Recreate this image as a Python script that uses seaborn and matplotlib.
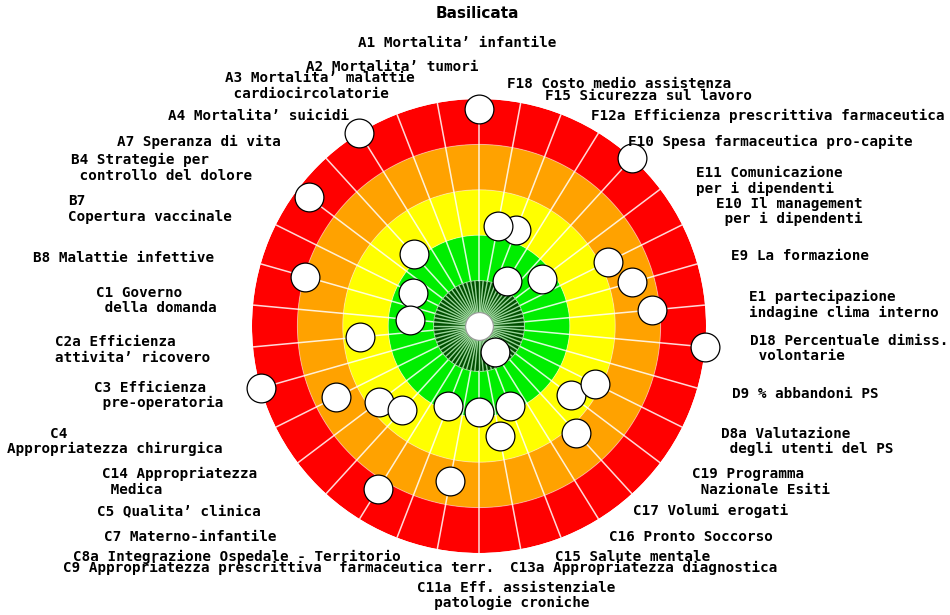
"""
Bersaglio (target) chart for Basilicata: each indicator sits on its own
spoke; the closer to the centre, the better the performance (0-5 score).
"""

import matplotlib
matplotlib.use('Agg')

import matplotlib.pyplot as plt
import numpy as np
import pandas as pd
import seaborn as sns

REGION = 'Basilicata'

INDICATORS = [
    'A1', 'A2', 'A3', 'A4', 'A7', 'B4', 'B7', 'B8', 'C1', 'C2a', 'C3', 'C4',
    'C14', 'C5', 'C7', 'C8a', 'C9', 'C11a', 'C13a', 'C15', 'C16', 'C17',
    'C19', 'D8a', 'D9', 'D18', 'E1', 'E9', 'E10', 'E11', 'F10', 'F12a',
    'F15', 'F18',
]

LABELS = [
    "A1 Mortalita’ infantile",
    "A2 Mortalita’ tumori",
    "A3 Mortalita’ malattie\n cardiocircolatorie",
    "A4 Mortalita’ suicidi",
    "A7 Speranza di vita",
    "B4 Strategie per\n controllo del dolore",
    "B7\nCopertura vaccinale",
    "B8 Malattie infettive",
    "C1 Governo\n della domanda",
    "C2a Efficienza\nattivita’ ricovero",
    "C3 Efficienza\n pre-operatoria",
    "     C4\nAppropriatezza chirurgica",
    "C14 Appropriatezza\n Medica",
    "C5 Qualita’ clinica",
    "C7 Materno-infantile",
    "C8a Integrazione Ospedale - Territorio",
    "C9 Appropriatezza prescrittiva  farmaceutica terr.",
    "C11a Eff. assistenziale\n  patologie croniche",
    "C13a Appropriatezza diagnostica",
    "C15 Salute mentale",
    "C16 Pronto Soccorso",
    "C17 Volumi erogati",
    "C19 Programma\n Nazionale Esiti",
    "D8a Valutazione\n degli utenti del PS",
    "D9 % abbandoni PS",
    "D18 Percentuale dimiss.\n volontarie",
    "E1 partecipazione\nindagine clima interno",
    "E9 La formazione",
    "E10 Il management\n per i dipendenti",
    "E11 Comunicazione\nper i dipendenti",
    "F10 Spesa farmaceutica pro-capite",
    "F12a Efficienza prescrittiva farmaceutica",
    "F15 Sicurezza sul lavoro",
    "F18 Costo medio assistenza",
]

# performance score, 5 = centre (best), 0 = outer edge; None = not shown
SCORES = [
    0.21, None, None, 0.0, 2.86, 0.30, 3.38, 1.02, 3.48, 2.37, 0.0, 1.48,
    2.23, 2.49, 0.79, 3.12, 1.53, 3.10, 2.53, 3.11, 4.32, 1.82,
    2.46, 2.15, None, 0.0, 1.18, 1.49, 1.82, 3.27, 0.0, 3.83,
    2.73, 2.75,
]

BANDS = ['#004f00', '#00ee00', '#ffff00', '#ffa200', '#ff0000']

# label layout: left edge of first line, vertical centre of first line (pixels)
LABEL_XY = [
    (358, 42), (306, 66), (225, 77), (168, 115), (117, 141), (71, 159),
    (68, 200), (33, 257), (96, 292), (55, 341), (94, 387), (7, 433),
    (102, 473), (97, 510), (104, 536), (73, 556), (63, 567), (417, 587),
    (510, 567), (555, 556), (609, 536), (633, 510), (692, 473), (721, 433),
    (732, 393), (750, 340), (749, 296), (731, 255), (716, 203), (696, 172),
    (628, 141), (591, 115), (545, 95), (507, 83),
]
LINE_STEP = 15.5

W, H = 950, 615
CX, CY, R = 479, 326, 227

sns.set_style('white')
plt.rcParams['font.family'] = ['DejaVu Sans']

fig = plt.figure(figsize=(W / 100, H / 100), dpi=100)
ax = fig.add_axes([(CX - R) / W, (H - CY - R) / H, 2 * R / W, 2 * R / H],
                  projection='polar')
ax.set_theta_offset(np.pi / 2)
ax.set_ylim(0, 5)
ax.axis('off')

n = len(INDICATORS)
theta = np.arange(n) * 2 * np.pi / n

# coloured rings
for k, col in enumerate(BANDS):
    ax.bar(0, 1, width=2 * np.pi, bottom=k, color=col, linewidth=0, zorder=1)

# ring boundaries
tt = np.linspace(0, 2 * np.pi, 400)
for k in range(1, 5):
    ax.plot(tt, np.full_like(tt, k), color='white', lw=0.7, alpha=0.45, zorder=2)

# spokes
for t in theta:
    ax.plot([t, t], [1, 5], color='white', lw=1.1, alpha=0.85, zorder=2)
for t in np.arange(2 * n) * np.pi / n:
    ax.plot([t, t], [0.25, 1], color='#9ad49a', lw=1.0, zorder=2)

# hub
ax.scatter([0], [0], s=400, color='white', edgecolor='#999999', linewidth=0.8,
           zorder=3, clip_on=False)

df = pd.DataFrame({'indicator': INDICATORS, 'theta': theta, 'score': SCORES})
df = df.dropna(subset=['score'])
df['radius'] = 5 - df['score']

sns.scatterplot(data=df, x='theta', y='radius', ax=ax, s=430, color='white',
                edgecolor='black', linewidth=0.9, zorder=4, clip_on=False,
                legend=False)
ax.set_xlabel('')
ax.set_ylabel('')

# va='baseline' on multi-line text anchors the last line, so shift down
for lab, (x, y) in zip(LABELS, LABEL_XY):
    extra = lab.count('\n') * LINE_STEP
    fig.text(x / W, 1 - (y + 5 + extra) / H, lab, ha='left', va='baseline',
             family='DejaVu Sans Mono', fontweight='bold', fontsize=10.3,
             linespacing=1.15, color='black', zorder=5)

fig.text(477 / W, 1 - 14 / H, REGION, ha='center', va='center',
         fontweight='bold', fontsize=11, color='black')

fig.savefig('out.png', dpi=100)
plt.close()
